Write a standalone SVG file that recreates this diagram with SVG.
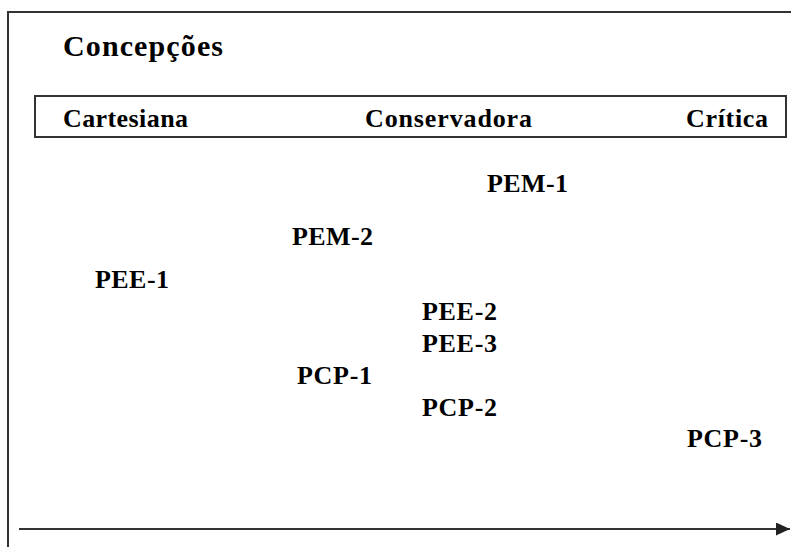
<svg xmlns="http://www.w3.org/2000/svg" width="791" height="547" viewBox="0 0 791 547">
<style>
.ln{stroke:#333;stroke-width:2;fill:none}
.t{font-family:'Liberation Serif','Times New Roman',serif;font-weight:bold;font-size:26px;fill:#000}
</style>
<defs>
<marker id="ah" markerWidth="14" markerHeight="13" refX="14" refY="6.5" orient="auto" markerUnits="userSpaceOnUse">
<path d="M0,0 L14,6.5 L0,13 Z" fill="#222"/>
</marker>
</defs>
<rect width="791" height="547" fill="#fff"/>
<g id="frame">
<path class="ln" d="M8,547 V12 H791"/>
</g>
<g class="t">
<g id="title"><text x="63" y="56" font-size="30" textLength="160" lengthAdjust="spacing">Concepções</text></g>
<g id="scale">
<rect class="ln" x="35" y="96" width="751" height="41"/>
<text x="63" y="127" textLength="125" lengthAdjust="spacing">Cartesiana</text>
<text x="365" y="127" textLength="167" lengthAdjust="spacing">Conservadora</text>
<text x="686" y="127" textLength="82" lengthAdjust="spacing">Crítica</text>
</g>
<g id="PEM-1"><text x="487" y="192" textLength="81" lengthAdjust="spacing">PEM-1</text></g>
<g id="PEM-2"><text x="292" y="245" textLength="81" lengthAdjust="spacing">PEM-2</text></g>
<g id="PEE-1"><text x="95" y="288" textLength="74" lengthAdjust="spacing">PEE-1</text></g>
<g id="PEE-2"><text x="422" y="320" textLength="75" lengthAdjust="spacing">PEE-2</text></g>
<g id="PEE-3"><text x="422" y="352" textLength="75" lengthAdjust="spacing">PEE-3</text></g>
<g id="PCP-1"><text x="297" y="384" textLength="75" lengthAdjust="spacing">PCP-1</text></g>
<g id="PCP-2"><text x="422" y="416" textLength="75" lengthAdjust="spacing">PCP-2</text></g>
<g id="PCP-3"><text x="687" y="447" textLength="75" lengthAdjust="spacing">PCP-3</text></g>
</g>
<g id="connectors">
<line class="ln" x1="19" y1="529" x2="790" y2="529" marker-end="url(#ah)"/>
</g>
</svg>
